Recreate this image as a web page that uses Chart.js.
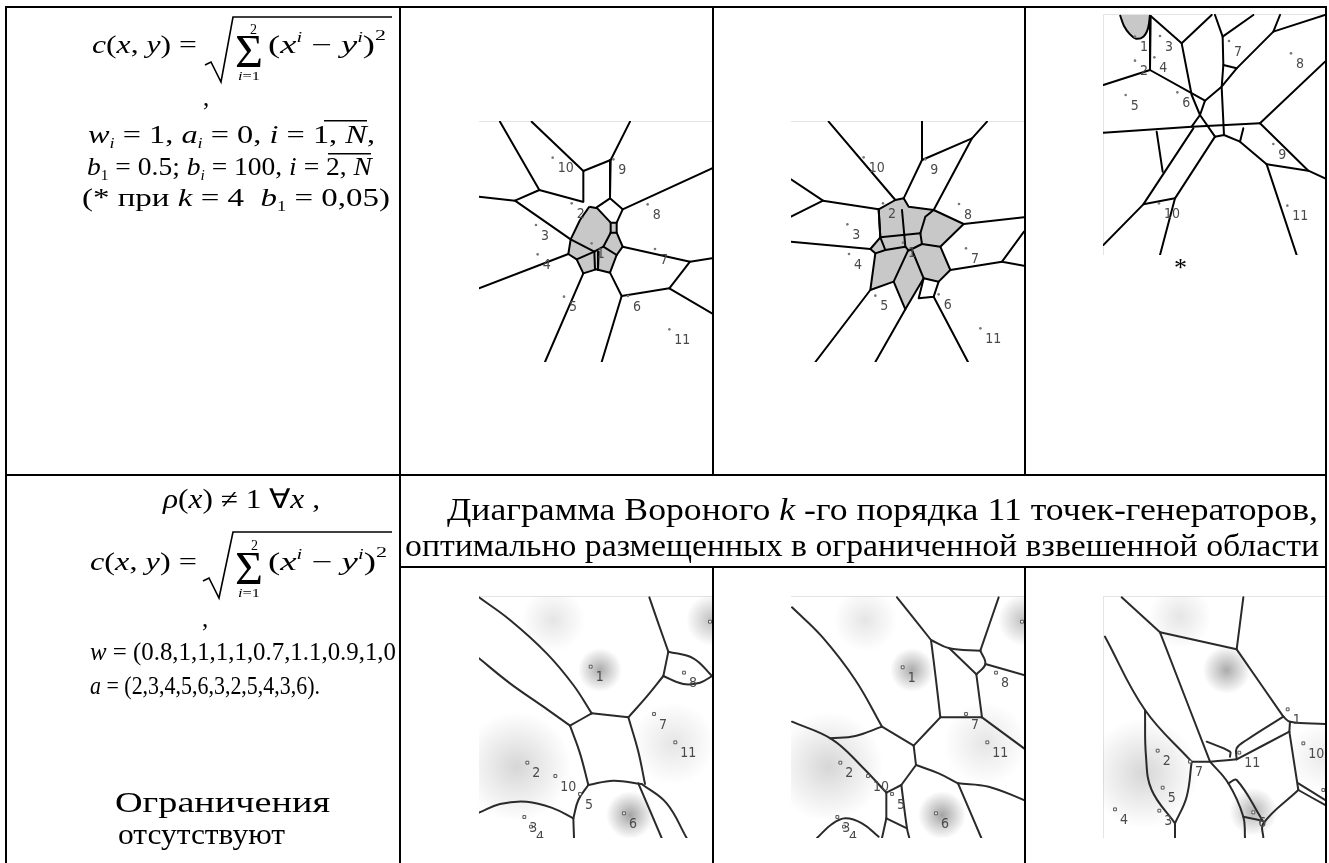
<!DOCTYPE html>
<html><head><meta charset="utf-8">
<script src="https://cdn.jsdelivr.net/npm/chart.js@4/dist/chart.umd.min.js"></script>
<style>
html,body{margin:0;padding:0;background:#fff;width:1329px;height:863px;overflow:hidden;position:relative}
canvas{position:absolute;display:block}
#doc{position:absolute;left:0;top:0;z-index:5;pointer-events:none}
</style></head><body>
<canvas id="p1" width="233" height="241" style="left:479px;top:121px"></canvas>
<canvas id="p2" width="233" height="241" style="left:791px;top:121px"></canvas>
<canvas id="p3" width="222" height="241" style="left:1103px;top:14px"></canvas>
<canvas id="p4" width="233" height="242" style="left:479px;top:596px"></canvas>
<canvas id="p5" width="233" height="242" style="left:791px;top:596px"></canvas>
<canvas id="p6" width="222" height="242" style="left:1103px;top:596px"></canvas>

<svg id="doc" width="1329" height="863" font-family="'Liberation Serif','Times New Roman',serif" fill="#000">
<defs><clipPath id="c1"><rect x="7" y="476" width="392" height="387"/></clipPath></defs>
<!-- table rules -->
<rect x="5" y="6" width="1322" height="2"/>
<rect x="5" y="6" width="2" height="857"/>
<rect x="1325" y="6" width="2" height="857"/>
<rect x="5" y="474" width="1322" height="2"/>
<rect x="399" y="566" width="928" height="2"/>
<rect x="399" y="6" width="2" height="857"/>
<rect x="712" y="6" width="2" height="470"/>
<rect x="712" y="566" width="2" height="297"/>
<rect x="1024" y="6" width="2" height="470"/>
<rect x="1024" y="566" width="2" height="297"/>

<!-- row 1 formulas -->
<text x="92" y="53" font-size="25" textLength="105" lengthAdjust="spacingAndGlyphs"><tspan font-style="italic">c</tspan>(<tspan font-style="italic">x</tspan>, <tspan font-style="italic">y</tspan>) =</text>
<polyline points="205,65 211,62 221,82 233,17 392,17" fill="none" stroke="#000" stroke-width="1.6"/>
<text x="250" y="34" font-size="14">2</text>
<text x="235" y="67" font-size="47" textLength="28" lengthAdjust="spacingAndGlyphs">Σ</text>
<text x="238" y="80" font-size="13" textLength="22" lengthAdjust="spacingAndGlyphs"><tspan font-style="italic">i</tspan>=1</text>
<text x="268" y="53" font-size="25" textLength="118" lengthAdjust="spacingAndGlyphs">(<tspan font-style="italic">x</tspan><tspan font-size="14" dy="-11" font-style="italic">i</tspan><tspan dy="11"> − </tspan><tspan font-style="italic">y</tspan><tspan font-size="14" dy="-11" font-style="italic">i</tspan><tspan dy="11">)</tspan><tspan font-size="15" dy="-13">2</tspan></text>
<text x="203" y="106" font-size="25">,</text>
<text x="88" y="143" font-size="25" textLength="287" lengthAdjust="spacingAndGlyphs"><tspan font-style="italic">w</tspan><tspan font-size="14" dy="5" font-style="italic">i</tspan><tspan dy="-5"> = 1, </tspan><tspan font-style="italic">a</tspan><tspan font-size="14" dy="5" font-style="italic">i</tspan><tspan dy="-5"> = 0, </tspan><tspan font-style="italic">i</tspan> = 1, <tspan font-style="italic">N</tspan>,</text>
<rect x="324" y="120" width="43" height="1.5"/>
<text x="87" y="175" font-size="25" textLength="285" lengthAdjust="spacingAndGlyphs"><tspan font-style="italic">b</tspan><tspan font-size="14" dy="5">1</tspan><tspan dy="-5"> = 0.5; </tspan><tspan font-style="italic">b</tspan><tspan font-size="14" dy="5" font-style="italic">i</tspan><tspan dy="-5"> = 100, </tspan><tspan font-style="italic">i</tspan> = 2, <tspan font-style="italic">N</tspan></text>
<rect x="328" y="153" width="43" height="1.5"/>
<text x="82" y="206" font-size="25" textLength="308" lengthAdjust="spacingAndGlyphs">(* при <tspan font-style="italic">k</tspan> = 4&#160; <tspan font-style="italic">b</tspan><tspan font-size="14" dy="5">1</tspan><tspan dy="-5"> = 0,05)</tspan></text>
<text x="1174" y="276" font-size="26">*</text>

<!-- header row 2 -->
<text x="447" y="520" font-size="31" textLength="871" lengthAdjust="spacingAndGlyphs">Диаграмма Вороного <tspan font-style="italic">k</tspan> -го порядка 11 точек-генераторов,</text>
<text x="405" y="556" font-size="31" textLength="914" lengthAdjust="spacingAndGlyphs">оптимально размещенных в ограниченной взвешенной области</text>

<!-- row 2 formulas -->
<text x="163" y="508" font-size="27" textLength="157" lengthAdjust="spacingAndGlyphs"><tspan font-style="italic">ρ</tspan>(<tspan font-style="italic">x</tspan>) ≠ 1 ∀<tspan font-style="italic">x</tspan> ,</text>
<text x="90" y="570" font-size="25" textLength="107" lengthAdjust="spacingAndGlyphs"><tspan font-style="italic">c</tspan>(<tspan font-style="italic">x</tspan>, <tspan font-style="italic">y</tspan>) =</text>
<polyline points="203,581 209,578 219,598 233,532 392,532" fill="none" stroke="#000" stroke-width="1.6"/>
<text x="251" y="550" font-size="14">2</text>
<text x="235" y="584" font-size="47" textLength="28" lengthAdjust="spacingAndGlyphs">Σ</text>
<text x="238" y="597" font-size="13" textLength="22" lengthAdjust="spacingAndGlyphs"><tspan font-style="italic">i</tspan>=1</text>
<text x="268" y="570" font-size="25" textLength="119" lengthAdjust="spacingAndGlyphs">(<tspan font-style="italic">x</tspan><tspan font-size="14" dy="-11" font-style="italic">i</tspan><tspan dy="11"> − </tspan><tspan font-style="italic">y</tspan><tspan font-size="14" dy="-11" font-style="italic">i</tspan><tspan dy="11">)</tspan><tspan font-size="15" dy="-13">2</tspan></text>
<text x="202" y="627" font-size="25">,</text>
<g clip-path="url(#c1)">
<text x="90" y="660" font-size="26" textLength="306" lengthAdjust="spacingAndGlyphs"><tspan font-style="italic">w</tspan> = (0.8,1,1,1,1,0.7,1.1,0.9,1,0</text>
</g>
<text x="90" y="694" font-size="26" textLength="230" lengthAdjust="spacingAndGlyphs"><tspan font-style="italic">a</tspan> = (2,3,4,5,6,3,2,5,4,3,6).</text>
<text x="115" y="812" font-size="29" textLength="215" lengthAdjust="spacingAndGlyphs">Ограничения</text>
<text x="118" y="844" font-size="29" textLength="167" lengthAdjust="spacingAndGlyphs">отсутствуют</text>
</svg>

<script>
// ---------- data (panel units) ----------
const siteLabels = ['1','2','3','4','5','6','7','8','9','10','11'];

// Panel 1: k = 2 (top row)
const p1Edges = [
  [300,65, 418,270],
  [237,290, 345,302, 418,270, 548,305],
  [395,65, 550,213, 550,305],
  [550,213, 632,180, 690,65],
  [632,180, 630,295, 668,328, 936,205],
  [630,295, 590,322],
  [345,302, 512,418, 583,455],
  [668,328, 650,368],
  [668,440, 870,485, 936,475],
  [870,485, 808,565, 936,640],
  [808,565, 665,588, 630,518],
  [665,588, 605,786],
  [550,520, 435,786],
  [505,462, 237,565],
  [583,455, 610,440, 632,398],
  [632,398, 650,398],
  [632,368, 632,398],
  [610,440, 650,465],
  [583,455, 585,508],
  [596,455, 594,510],
  [530,478, 583,455]
];
const p1Fill = [
  [568,320, 592,325, 632,368, 650,368, 650,398, 668,440, 650,465, 630,518, 588,508, 550,520, 530,478, 505,462, 512,418, 540,360, 568,320]
];
const p1SiteX = [575,515,408,413,492,684,765,743,640,458,808];
const p1SiteY = [430,310,375,463,590,588,447,313,178,173,688];

// Panel 2: k = 3 (top row)
const p2Edges = [
  [350,65, 550,300],
  [630,65, 630,180, 780,115, 825,65],
  [780,115, 665,330],
  [630,180, 575,295],
  [237,238, 333,302, 237,350],
  [333,302, 500,328],
  [237,425, 475,447],
  [755,372, 936,352],
  [936,395, 870,485, 936,497],
  [870,485, 715,510],
  [475,570, 310,786],
  [580,628, 490,786],
  [665,590, 768,786],
  [635,535, 620,595, 665,590, 680,545],
  [570,330, 580,440],
  [505,412, 625,400],
  [625,400, 640,350, 665,330],
  [625,400, 630,432, 685,440],
  [490,460, 520,450, 580,440],
  [580,440, 590,452, 600,447, 630,432],
  [588,452, 545,545],
  [600,450, 635,535],
  [500,328, 505,412, 520,450]
];
const p2Fill = [
  [500,328, 550,300, 575,295, 590,320, 665,330, 755,372, 685,440, 715,510, 680,545, 635,535, 580,628, 545,545, 475,570, 490,460, 475,447, 505,412, 500,328]
];
const p2SiteX = [573,513,406,411,490,680,762,741,640,455,805];
const p2SiteY = [428,310,373,462,587,583,445,312,178,172,685];

// Panel 3: k = 4 (top row, *)
const p3Edges = [
  [392,48, 390,210],
  [392,48, 485,130, 575,45],
  [485,130, 515,285, 540,345],
  [390,210, 250,255],
  [390,210, 555,302, 603,262, 650,205, 760,95, 915,45],
  [760,95, 780,45],
  [585,45, 608,110, 700,45],
  [608,110, 610,195, 650,205],
  [610,195, 605,262, 612,405],
  [555,302, 540,345],
  [540,345, 515,380],
  [540,345, 585,410],
  [250,398, 515,380, 720,370],
  [720,370, 915,185],
  [720,370, 865,512, 915,535],
  [740,493, 865,512],
  [740,493, 660,425, 670,385],
  [585,410, 612,405, 660,425],
  [740,493, 830,765],
  [585,410, 465,595, 420,765],
  [465,595, 370,613],
  [410,395, 428,515],
  [520,385, 370,613, 250,735]
];
const p3Fill = [
  [300,45, 312,78, 330,103, 348,116, 370,110, 384,85, 390,45]
];
const p3SiteX = [345,345,420,403,317,472,627,813,760,417,802];
const p3SiteY = [110,182,108,172,285,277,123,160,432,610,617];

// Panel 4: bottom row, k = 2 (weighted)
const p4Curves = [
  [237,82, 330,150, 440,250, 520,345, 575,430],
  [237,265, 330,340, 430,410, 510,467],
  [510,467, 575,430],
  [575,430, 685,442],
  [685,442, 740,380, 790,318],
  [790,318, 805,245],
  [805,245, 775,160, 748,82],
  [805,245, 880,265, 936,318],
  [790,318, 850,342, 900,338, 936,318],
  [510,467, 540,550, 565,645],
  [685,442, 715,545, 735,642],
  [565,645, 640,632, 725,642],
  [715,640, 785,804],
  [725,642, 800,700, 860,804],
  [565,645, 535,690, 520,745],
  [237,728, 300,702, 380,695, 460,715, 520,745],
  [520,745, 522,804]
];
const p4SiteX = [572,382,373,393,540,672,762,852,930,466,826];
const p4SiteY = [290,578,741,770,672,730,432,308,155,618,517];
const p4Blobs = [[460,150,32,0.10],[600,300,22,0.33],[350,590,55,0.16],[690,735,24,0.36],[820,520,42,0.10],[936,150,26,0.25]];

// Panel 5: bottom row, k = 3 (weighted)
const p5Curves = [
  [240,112, 330,200, 430,330, 510,470],
  [240,455, 360,508, 450,590, 523,668],
  [355,505, 430,498, 510,470],
  [510,470, 605,527],
  [605,527, 685,442],
  [685,442, 672,330, 657,210],
  [657,210, 555,82],
  [657,210, 712,235, 805,242],
  [712,235, 793,313],
  [805,242, 820,282, 793,313],
  [805,242, 860,82],
  [820,282, 936,315],
  [793,313, 810,442],
  [685,442, 810,442],
  [810,442, 936,535],
  [605,527, 612,585],
  [612,585, 568,645],
  [612,585, 680,610, 738,640],
  [738,640, 830,650, 936,690],
  [738,640, 808,804],
  [523,668, 568,645],
  [568,645, 585,775, 592,804],
  [523,668, 523,745],
  [523,745, 585,775],
  [523,745, 510,804],
  [315,804, 360,762, 400,745, 450,760, 500,800]
];
const p5SiteX = [572,385,376,396,540,672,762,852,930,468,826];
const p5SiteY = [292,578,741,770,672,730,432,308,155,618,517];
const p5Blobs = [[460,150,32,0.10],[600,300,22,0.33],[350,590,55,0.16],[690,735,24,0.36],[820,520,42,0.10],[936,150,26,0.25]];

// Panel 6: bottom row, k = 4 (weighted)
const p6Curves = [
  [305,82, 420,187],
  [420,187, 650,238],
  [650,238, 670,82],
  [650,238, 790,440],
  [420,187, 570,575],
  [255,200, 375,420, 515,575],
  [375,420, 378,560, 395,660, 465,760],
  [515,575, 500,680, 465,760],
  [465,760, 465,804],
  [515,575, 570,575, 650,568],
  [560,515, 630,545, 630,560],
  [570,575, 625,640, 670,740, 675,804],
  [625,640, 650,630, 728,752],
  [650,568, 650,535, 680,510, 790,440],
  [650,568, 808,485],
  [790,440, 810,455, 915,462],
  [808,485, 810,455],
  [808,485, 835,660],
  [835,660, 730,760, 730,804],
  [835,660, 915,705],
  [835,640, 915,690],
  [670,740, 728,752]
];
const p6SiteX = [803,413,418,285,428,700,510,910,null,850,658];
const p6SiteY = [418,542,722,718,653,727,575,660,null,520,548];
const p6Blobs = [[480,140,32,0.10],[620,300,24,0.33],[370,610,55,0.16],[700,725,24,0.30],[905,560,35,0.08]];

// ---------- helpers ----------
function pts(a){const r=[];for(let i=0;i<a.length;i+=2)r.push({x:a[i],y:a[i+1]});return r;}

const sitePlugin = {
  id:'siteText',
  afterDatasetsDraw(chart){
    const ctx=chart.ctx, a=chart.chartArea;
    chart.data.datasets.forEach((ds,i)=>{
      if(!ds.siteText) return;
      const meta=chart.getDatasetMeta(i);
      ctx.save();
      ctx.beginPath();ctx.rect(a.left,a.top,a.right-a.left,a.bottom-a.top);ctx.clip();
      ctx.fillStyle='#4a4a4a';
      ctx.font='14px "Liberation Sans Narrow","DejaVu Sans Condensed","Liberation Sans",Arial,sans-serif';
      ctx.textBaseline='middle';ctx.textAlign='left';
      meta.data.forEach((el,j)=>{
        const raw=ds.data[j];
        if(raw.x==null||!isFinite(el.x)||!isFinite(el.y)) return;
        ctx.fillText(ds.siteText[j], el.x+5, el.y+11);
      });
      ctx.restore();
    });
  }
};
const framePlugin = {
  id:'frame',
  beforeDatasetsDraw(chart,args,opts){
    const ctx=chart.ctx,a=chart.chartArea;
    ctx.save();ctx.fillStyle='#fff';ctx.fillRect(a.left,a.top,a.right-a.left,a.bottom-a.top);
    ctx.strokeStyle='#e4e4e4';ctx.lineWidth=1;ctx.beginPath();
    ctx.moveTo(a.left,a.top+0.5);ctx.lineTo(a.right,a.top+0.5);
    if(opts.left){ctx.moveTo(a.left+0.5,a.top);ctx.lineTo(a.left+0.5,a.bottom);}
    ctx.stroke();ctx.restore();
  }
};

function sitesDs(xs,ys,bottom){
  const data=xs.map((x,i)=>({x:x,y:ys[i]}));
  return {type:'scatter',data,order:1,siteText:siteLabels,showLine:false,
    pointStyle: bottom?'rect':'circle',
    pointRadius: bottom?2:1.3,
    pointBackgroundColor: bottom?'#fff':'#777',
    pointBorderColor: bottom?'#555':'#777',
    pointBorderWidth: bottom?1:0};
}
function edgeDs(arr,curved){
  return {type:'line',data:pts(arr),borderColor:curved?'#2a2a2a':'#000',borderWidth:2,
    pointRadius:0,fill:false,tension:curved?0.4:0,order:2,
    borderCapStyle:'round',borderJoinStyle:'round'};
}
function fillDs(arr,curved){
  return {type:'line',data:pts(arr),borderColor:'#000',borderWidth:2,backgroundColor:'#c8c8c8',
    pointRadius:0,fill:'shape',tension:curved?0.35:0,order:3,borderJoinStyle:'round'};
}
function blobDs(blobs){
  return {type:'bubble',order:4,borderWidth:0,
    data:blobs.map(b=>({x:b[0],y:b[1],r:b[2],a:b[3]})),
    backgroundColor:(c)=>{
      if(c.type!=='data'||!c.raw) return 'rgba(0,0,0,0)';
      const ch=c.chart, xs=ch.scales.x, ys=ch.scales.y;
      if(!xs||!ys) return 'rgba(0,0,0,0)';
      const px=xs.getPixelForValue(c.raw.x), py=ys.getPixelForValue(c.raw.y);
      if(!isFinite(px)||!isFinite(py)) return 'rgba(0,0,0,0)';
      const g=ch.ctx.createRadialGradient(px,py,0,px,py,c.raw.r);
      g.addColorStop(0,'rgba(0,0,0,'+c.raw.a+')');
      g.addColorStop(0.45,'rgba(0,0,0,'+(c.raw.a*0.55)+')');
      g.addColorStop(1,'rgba(0,0,0,0)');
      return g;
    },
    hoverRadius:0};
}
function makePanel(id,xr,yr,datasets,frameOpts){
  const ch = new Chart(document.getElementById(id),{
    type:'scatter',
    data:{datasets},
    options:{
      responsive:false,animation:false,devicePixelRatio:1,events:[],
      layout:{padding:0,autoPadding:false},
      plugins:{legend:{display:false},tooltip:{enabled:false},frame:frameOpts||{}},
      scales:{
        x:{type:'linear',display:false,min:xr[0],max:xr[1]},
        y:{type:'linear',display:false,min:yr[0],max:yr[1],reverse:true}
      }
    },
    plugins:[framePlugin,sitePlugin]
  });
  ch.update('none');
  return ch;
}

makePanel('p1',[237,936],[63,786],[
  ...p1Fill.map(f=>fillDs(f,false)),
  ...p1Edges.map(e=>edgeDs(e,false)),
  sitesDs(p1SiteX,p1SiteY,false)
]);
makePanel('p2',[237,936],[63,786],[
  ...p2Fill.map(f=>fillDs(f,false)),
  ...p2Edges.map(e=>edgeDs(e,false)),
  sitesDs(p2SiteX,p2SiteY,false)
]);
makePanel('p3',[249,915],[42,765],[
  ...p3Fill.map(f=>fillDs(f,true)),
  ...p3Edges.map(e=>edgeDs(e,false)),
  sitesDs(p3SiteX,p3SiteY,false)
],{left:true});
makePanel('p4',[237,936],[78,804],[
  blobDs(p4Blobs),
  ...p4Curves.map(e=>edgeDs(e,true)),
  sitesDs(p4SiteX,p4SiteY,true)
]);
makePanel('p5',[237,936],[78,804],[
  blobDs(p5Blobs),
  ...p5Curves.map(e=>edgeDs(e,true)),
  sitesDs(p5SiteX,p5SiteY,true)
]);
makePanel('p6',[249,915],[78,804],[
  blobDs(p6Blobs),
  ...p6Curves.map(e=>edgeDs(e,true)),
  sitesDs(p6SiteX,p6SiteY,true)
],{left:true});
</script>
</body></html>
